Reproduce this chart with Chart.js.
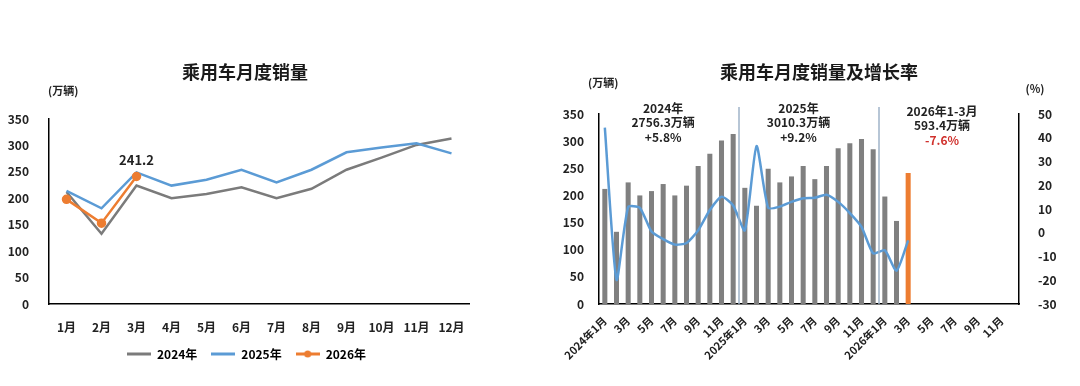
<!DOCTYPE html>
<html>
<head>
<meta charset="utf-8">
<script src="https://cdn.jsdelivr.net/npm/chart.js@4.4.1/dist/chart.umd.min.js"></script>
<style>
  body { margin: 0; background: #fff; width: 1080px; height: 386px; overflow: hidden; position: relative; }
  #left-chart { position: absolute; left: 0; top: 0; }
  #right-chart { position: absolute; left: 540px; top: 0; }
</style>
</head>
<body>
<canvas id="left-chart" width="500" height="386"></canvas>
<canvas id="right-chart" width="540" height="386"></canvas>
<script>
// 月份
const months = ['1月', '2月', '3月', '4月', '5月', '6月', '7月', '8月', '9月', '10月', '11月', '12月'];
// 乘用车销量 (万辆)
const sales2024 = [212, 133, 224, 200, 208, 221, 200, 218, 254, 277, 301, 313];
const sales2025 = [214, 181, 249, 224, 235, 254, 230, 254, 287, 296, 304, 285];
const sales2026 = [198, 153, 241.2];
// 同比增长率 (%)
const growth2024 = [44.3, -19.8, 10.8, 10.5, 0.5, -2.7, -5.0, -4.3, 1.0, 9.6, 15.2, 11.5];
const growth2025 = [1.0, 36.5, 10.5, 11.0, 13.0, 14.5, 14.7, 16.0, 13.0, 8.3, 2.5, -8.7];
const growth2026 = [-7.4, -16.0, -3.2];
// 右图横轴
const periodLabels = [
  '2024年1月', '2月', '3月', '4月', '5月', '6月', '7月', '8月', '9月', '10月', '11月', '12月',
  '2025年1月', '2月', '3月', '4月', '5月', '6月', '7月', '8月', '9月', '10月', '11月', '12月',
  '2026年1月', '2月', '3月', '4月', '5月', '6月', '7月', '8月', '9月', '10月', '11月', '12月'
];
const yearNotes = [
  ['2024年', '2756.3万辆', '+5.8%'],
  ['2025年', '3010.3万辆', '+9.2%'],
  ['2026年1-3月', '593.4万辆', '-7.6%']
];

const FONT = '"Noto Sans CJK SC", "Noto Sans", sans-serif';
Chart.defaults.font.family = FONT;
Chart.defaults.font.weight = 'bold';
Chart.defaults.color = '#222';

const GRAY = '#7b7b7b';
const BLUE = '#5b9bd5';
const ORANGE = '#ed7d31';

function legendMark(color, dot) {
  const c = document.createElement('canvas');
  c.width = 24; c.height = 10;
  const g = c.getContext('2d');
  g.strokeStyle = color; g.lineWidth = 3;
  g.beginPath(); g.moveTo(0, 5); g.lineTo(24, 5); g.stroke();
  if (dot) { g.fillStyle = color; g.beginPath(); g.arc(12, 5, 3.5, 0, Math.PI * 2); g.fill(); }
  return c;
}

function text(ctx, str, x, y, size, color, align) {
  ctx.save();
  ctx.font = 'bold ' + size + 'px ' + FONT;
  ctx.fillStyle = color || '#222';
  ctx.textAlign = align || 'center';
  ctx.textBaseline = 'middle';
  ctx.fillText(str, x, y);
  ctx.restore();
}

// ---------- 左图 ----------
const leftDecor = {
  id: 'leftDecor',
  afterDraw(chart) {
    const ctx = chart.ctx;
    text(ctx, '乘用车月度销量', 245, 72, 18, '#1a1a1a');
    text(ctx, '(万辆)', 48, 91, 11, '#222', 'left');
    // 2026年3月 数据标签
    const pt = chart.getDatasetMeta(2).data[2];
    text(ctx, String(sales2026[2]), pt.x, pt.y - 16, 13, '#222');
  }
};

new Chart(document.getElementById('left-chart'), {
  type: 'line',
  data: {
    labels: months,
    datasets: [
      { label: '2024年', data: sales2024, borderColor: GRAY, backgroundColor: GRAY, borderWidth: 2.5, pointRadius: 0, order: 3 },
      { label: '2025年', data: sales2025, borderColor: BLUE, backgroundColor: BLUE, borderWidth: 2.5, pointRadius: 0, order: 2 },
      { label: '2026年', data: sales2026, borderColor: ORANGE, backgroundColor: ORANGE, borderWidth: 2.5, pointRadius: 3.5, order: 1 }
    ]
  },
  options: {
    responsive: false,
    animation: false,
    layout: { padding: { top: 119, left: 0, right: 7, bottom: 16 } },
    scales: {
      x: {
        offset: true,
        grid: { display: false },
        border: { color: '#000', width: 1.5 },
        ticks: { padding: 8, font: { size: 12, weight: 'bold' }, color: '#222' },
        afterFit(s) { s.height = 30; }
      },
      y: {
        min: 0, max: 350,
        grid: { display: false },
        border: { color: '#000', width: 1.5 },
        ticks: { stepSize: 50, padding: 12, font: { size: 12, weight: 'bold' }, color: '#222' },
        afterFit(s) { s.width = 49; }
      },
      // 右侧留白
      spacer: {
        position: 'right',
        grid: { display: false },
        border: { display: false },
        ticks: { display: false },
        afterFit(s) { s.width = 24; }
      }
    },
    plugins: {
      legend: {
        position: 'bottom',
        labels: {
          usePointStyle: true,
          pointStyleWidth: 24,
          boxHeight: 10,
          padding: 14,
          font: { size: 12, weight: 'bold' },
          color: '#222',
          generateLabels(chart) {
            return chart.data.datasets.map((ds, i) => ({
              text: ds.label,
              pointStyle: legendMark(ds.borderColor, i === 2),
              fillStyle: ds.borderColor,
              strokeStyle: ds.borderColor,
              lineWidth: 0,
              datasetIndex: i
            }));
          }
        }
      },
      tooltip: { enabled: false }
    }
  },
  plugins: [leftDecor]
});

// ---------- 右图 ----------
const pad9 = new Array(9).fill(null);
const barValues = [...sales2024, ...sales2025, ...sales2026, ...pad9];
const barColors = barValues.map((v, i) => (i === 26 ? ORANGE : '#808080'));
const growthValues = [...growth2024, ...growth2025, ...growth2026, ...pad9];

const rightDecor = {
  id: 'rightDecor',
  afterDraw(chart) {
    const ctx = chart.ctx;
    const x = chart.scales.x;
    const area = chart.chartArea;
    text(ctx, '乘用车月度销量及增长率', 279, 72, 18, '#1a1a1a');
    text(ctx, '(万辆)', 48, 83, 11, '#222', 'left');
    text(ctx, '(%)', 495, 89, 11, '#222', 'center');
    // 年份分隔线
    ctx.save();
    ctx.strokeStyle = '#9fb3c8';
    ctx.lineWidth = 1.5;
    [11.5, 23.5].forEach(v => {
      const px = (x.getPixelForValue(Math.floor(v)) + x.getPixelForValue(Math.ceil(v))) / 2;
      ctx.beginPath(); ctx.moveTo(px, 107); ctx.lineTo(px, area.bottom); ctx.stroke();
    });
    ctx.restore();
    // 年度说明
    const noteAt = [5, 16.6, 28.9];
    yearNotes.forEach((lines, k) => {
      const i0 = Math.floor(noteAt[k]);
      const frac = noteAt[k] - i0;
      const px = x.getPixelForValue(i0) + frac * (x.getPixelForValue(i0 + 1) - x.getPixelForValue(i0));
      const y0 = k === 2 ? 111 : 108;
      lines.forEach((ln, j) => {
        const red = k === 2 && j === 2;
        text(ctx, ln, px, y0 + j * 14.5, 12, red ? '#d0312d' : '#222');
      });
    });
  }
};

new Chart(document.getElementById('right-chart'), {
  data: {
    labels: periodLabels,
    datasets: [
      { type: 'line', label: '增长率', data: growthValues, yAxisID: 'y1', borderColor: BLUE, borderWidth: 2.5, pointRadius: 0, tension: 0.2, order: 0 },
      { type: 'bar', label: '销量', data: barValues, yAxisID: 'y', backgroundColor: barColors, barPercentage: 0.48, categoryPercentage: 0.9, order: 1 }
    ]
  },
  options: {
    responsive: false,
    animation: false,
    layout: { padding: { top: 114, left: 0, right: 0, bottom: 0 } },
    scales: {
      x: {
        grid: { display: false },
        border: { color: '#000', width: 1.5 },
        ticks: {
          autoSkip: false,
          maxRotation: 45, minRotation: 45,
          padding: 2,
          font: { size: 11, weight: 'bold' },
          color: '#222',
          callback(value, index) { return index % 2 === 0 ? this.getLabelForValue(value) : ''; }
        },
        afterFit(s) { s.height = 82; }
      },
      y: {
        position: 'left',
        min: 0, max: 350,
        grid: { display: false },
        border: { color: '#000', width: 1.5 },
        ticks: { stepSize: 50, padding: 7, font: { size: 12, weight: 'bold' }, color: '#222' },
        afterFit(s) { s.width = 59; }
      },
      y1: {
        position: 'right',
        min: -30, max: 50,
        grid: { display: false },
        border: { color: '#000', width: 1.5 },
        ticks: { stepSize: 10, padding: 11, font: { size: 12, weight: 'bold' }, color: '#222' },
        afterFit(s) { s.width = 61; }
      }
    },
    plugins: {
      legend: { display: false },
      tooltip: { enabled: false }
    }
  },
  plugins: [rightDecor]
});
</script>
</body>
</html>
